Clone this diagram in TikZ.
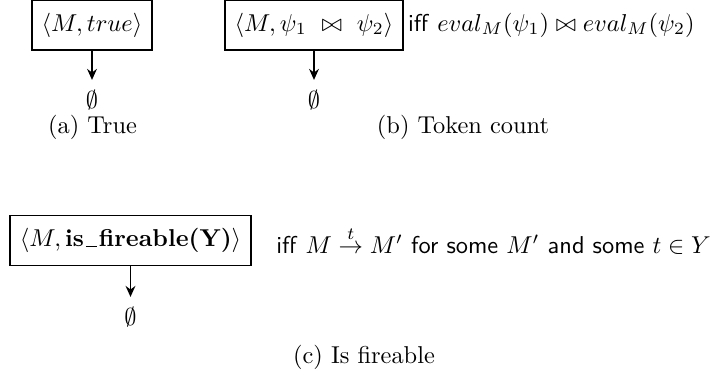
\documentclass[tikz,border=0pt]{standalone}
\usepackage{amsmath,amssymb}
\usepackage{tikz}
\usetikzlibrary{positioning,arrows.meta}

\newcommand{\lowbar}{\kern.08em\rule[-.3pt]{.45em}{.5pt}\kern.08em}

\begin{document}
\begin{tikzpicture}[x=0.41pt, y=-0.41pt,
  state/.style={rectangle, draw, thick, inner xsep=4pt, minimum height=20.5pt},
  trans/.style={-{Stealth[length=4.5pt, width=4pt]}, thick},
  empty/.style={inner sep=4pt}]
\useasboundingbox (0,0) rectangle (714,377);

% (a) True
\node[state] (sa) at (92,25) {$\langle M, true \rangle$};
\node[empty] (ea) at (92,100) {$\emptyset$};
\draw[trans] (sa) -- (ea);
\node (capa) at (92.5,127) {(a) True};

% (b) Token count
\node[state] (sb) at (314,25) {$\langle M, \psi_1 ~\bowtie~ \psi_2 \rangle$};
\node[right=1.5pt of sb, inner sep=0pt] (cb) {\textsf{iff} $eval_M(\psi_1) \bowtie eval_M(\psi_2)$};
\node[empty] (eb) at (314,100) {$\emptyset$};
\draw[trans] (sb) -- (eb);
\node (capb) at (463,127) {(b) Token count};

% (c) Is fireable
\node[state] (sc) at (130.5,240.5) {$\langle M, \text{\textbf{is\lowbar fireable(Y)}} \rangle$};
\node[right=6.5pt of sc] (cc) {\textsf{iff} $M \stackrel{t}{\to} M'$ \textsf{for some} $M'$ \textsf{and some} $t \in Y$};
\node[empty] (ec) at (130.5,317) {$\emptyset$};
\draw[trans] (sc) -- (ec);
\node (capc) at (364,357) {(c) Is fireable};
\end{tikzpicture}
\end{document}
